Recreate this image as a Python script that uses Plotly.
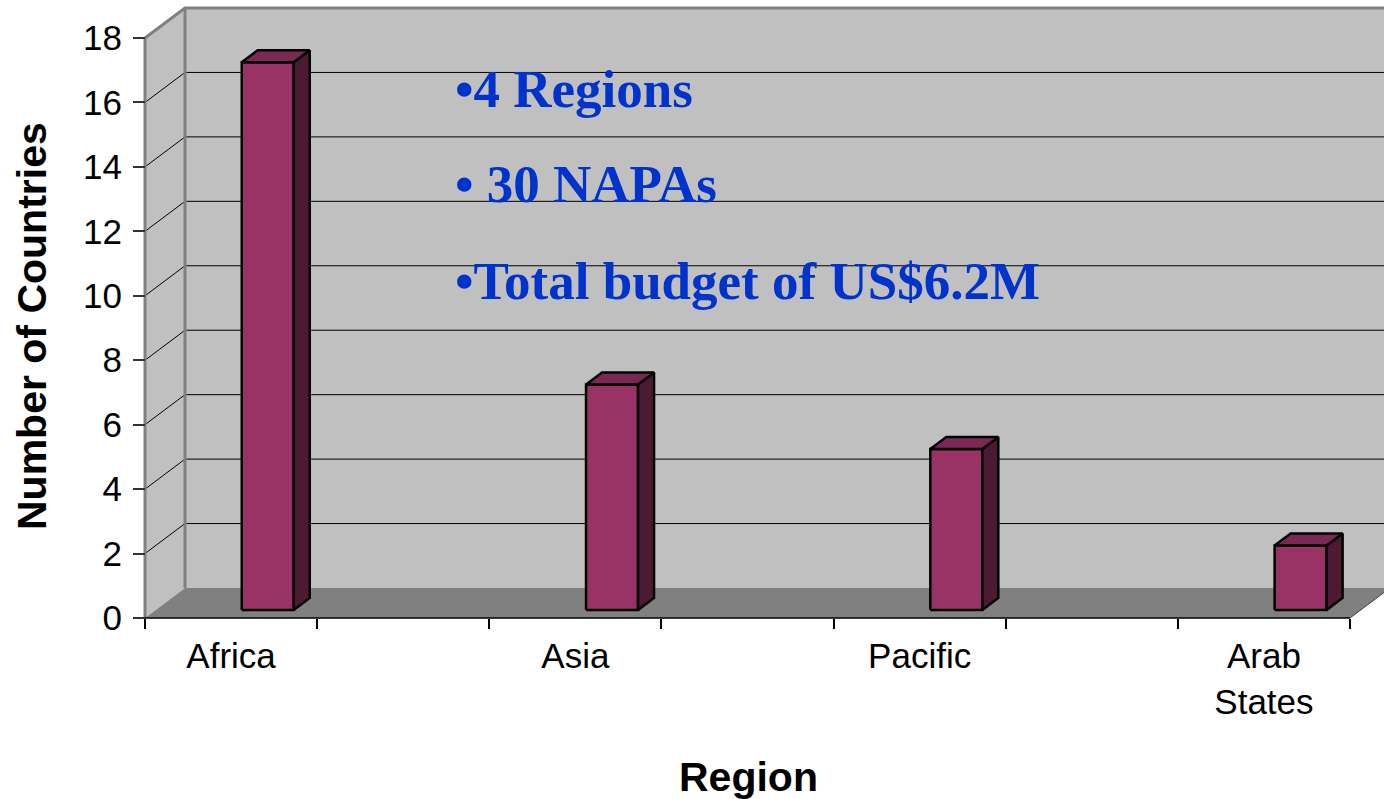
import plotly.graph_objects as go

# ---- data ----
regions = ["Africa", "Asia", "Pacific", "Arab<br>States"]
countries = [17, 7, 5, 2]
y_ticks = list(range(0, 20, 2))
notes = ["•4 Regions", "• 30 NAPAs", "•Total budget of US$6.2M"]
x_title = "Region"
y_title = "Number of Countries"

# ---- geometry / style ----
W, H = 1384, 799
X0_PX, X1_PX = 145, 1350      # front floor edge
Y0_PX, YTOP_PX = 618, 38      # value 0 / value 18 on the front plane
SLOTS = 2 * len(regions) - 1
YMAX = 18
S = (X1_PX - X0_PX) / SLOTS   # px per x unit
U = (Y0_PX - YTOP_PX) / YMAX  # px per y unit
DX, DY = 40 / S, 30 / U       # full depth in data units
F0, FD = 0.267, 0.40          # bar front depth fraction, bar depth fraction
BW = 52 / S                   # bar width (data units)
XR = SLOTS + DX + 1           # far right of back wall (beyond view)

WALL = "#c0c0c0"
FLOOR = "#808080"
EDGE = "#808080"
FRONT = "#993366"
SIDE = "#4d1a33"
TOP = "#7a2952"
SANS = "Liberation Sans, Arial, sans-serif"
SERIF = "Liberation Serif, Times New Roman, serif"

fig = go.Figure()


def poly(xs, ys, fill, line="rgba(0,0,0,0)", lw=0):
    fig.add_trace(go.Scatter(x=xs + [xs[0]], y=ys + [ys[0]], mode="lines",
                             fill="toself", fillcolor=fill,
                             line=dict(color=line, width=lw),
                             hoverinfo="skip", showlegend=False))


def seg(xs, ys, color, lw):
    fig.add_trace(go.Scatter(x=xs, y=ys, mode="lines",
                             line=dict(color=color, width=lw),
                             hoverinfo="skip", showlegend=False))


# walls and floor
poly([DX, XR, XR, DX], [DY, DY, YMAX + DY, YMAX + DY], WALL)
poly([0, DX, DX, 0], [0, DY, YMAX + DY, YMAX], WALL)
poly([0, SLOTS, SLOTS + DX, DX], [0, 0, DY, DY], FLOOR)

# gridlines
for v in y_ticks[1:-1]:
    seg([0, DX, XR], [v, v + DY, v + DY], "#000000", 1)

# wall edges
seg([0, 0], [0, YMAX], EDGE, 3)
seg([0, DX, XR], [YMAX, YMAX + DY, YMAX + DY], EDGE, 3)
seg([DX, DX], [DY, YMAX + DY], EDGE, 3)
seg([SLOTS, SLOTS + DX], [0, DY], "#404040", 1)
seg([0, SLOTS], [0, 0], "#000000", 1.5)

# bars
for i, v in enumerate(countries):
    xl = 2 * i + 0.5 + F0 * DX
    yb = F0 * DY
    yt = yb + v
    ddx, ddy = FD * DX, FD * DY
    poly([xl, xl + BW, xl + BW, xl], [yb, yb, yt, yt], FRONT, "#000000", 2.5)
    poly([xl + BW, xl + BW + ddx, xl + BW + ddx, xl + BW],
         [yb, yb + ddy, yt + ddy, yt], SIDE, "#000000", 2.5)
    poly([xl, xl + BW, xl + BW + ddx, xl + ddx],
         [yt, yt, yt + ddy, yt + ddy], TOP, "#000000", 2.5)

# text notes
note_y = [89, 184, 281]
for t, yp in zip(notes, note_y):
    fig.add_annotation(x=453 / W, y=1 - yp / H, xref="paper", yref="paper",
                       text="<b>" + t + "</b>", showarrow=False,
                       xanchor="left", yanchor="middle",
                       font=dict(family=SERIF, size=53, color="#0033cc"))

# axis titles
fig.add_annotation(x=748 / W, y=1 - 777 / H, xref="paper", yref="paper",
                   text="<b>" + x_title + "</b>", showarrow=False,
                   xanchor="center", yanchor="middle",
                   font=dict(family=SANS, size=41, color="#000000"))
fig.add_annotation(x=32 / W, y=1 - 326 / H, xref="paper", yref="paper",
                   text="<b>" + y_title + "</b>", showarrow=False, textangle=-90,
                   xanchor="center", yanchor="middle",
                   font=dict(family=SANS, size=41, color="#000000"))

fig.update_layout(
    width=W, height=H,
    margin=dict(l=0, r=0, t=0, b=0),
    paper_bgcolor="white", plot_bgcolor="white",
    showlegend=False,
    xaxis=dict(range=[-X0_PX / S, (W - X0_PX) / S],
               tickvals=[2 * i + 0.5 for i in range(len(regions))],
               ticktext=regions, ticks="",
               minor=dict(tickvals=list(range(SLOTS + 1)), ticks="outside",
                          ticklen=10, tickwidth=1.5, tickcolor="#000000"),
               tickfont=dict(family=SANS, size=35, color="#000000"),
               ticklabelstandoff=14,
               showgrid=False, zeroline=False, showline=False,
               anchor="free", position=(H - Y0_PX) / H, fixedrange=True),
    yaxis=dict(range=[-(H - Y0_PX) / U, Y0_PX / U],
               tickvals=y_ticks, ticks="outside", ticklen=12, tickwidth=1.5,
               tickcolor="#333333",
               tickfont=dict(family=SANS, size=35, color="#000000"),
               ticklabelstandoff=4,
               showgrid=False, zeroline=False, showline=False,
               anchor="free", position=X0_PX / W, fixedrange=True),
)

fig.write_html("out.html",
               config={"displayModeBar": False},
               post_script="document.body.style.margin='0';"
                           "document.body.style.overflow='hidden';")
